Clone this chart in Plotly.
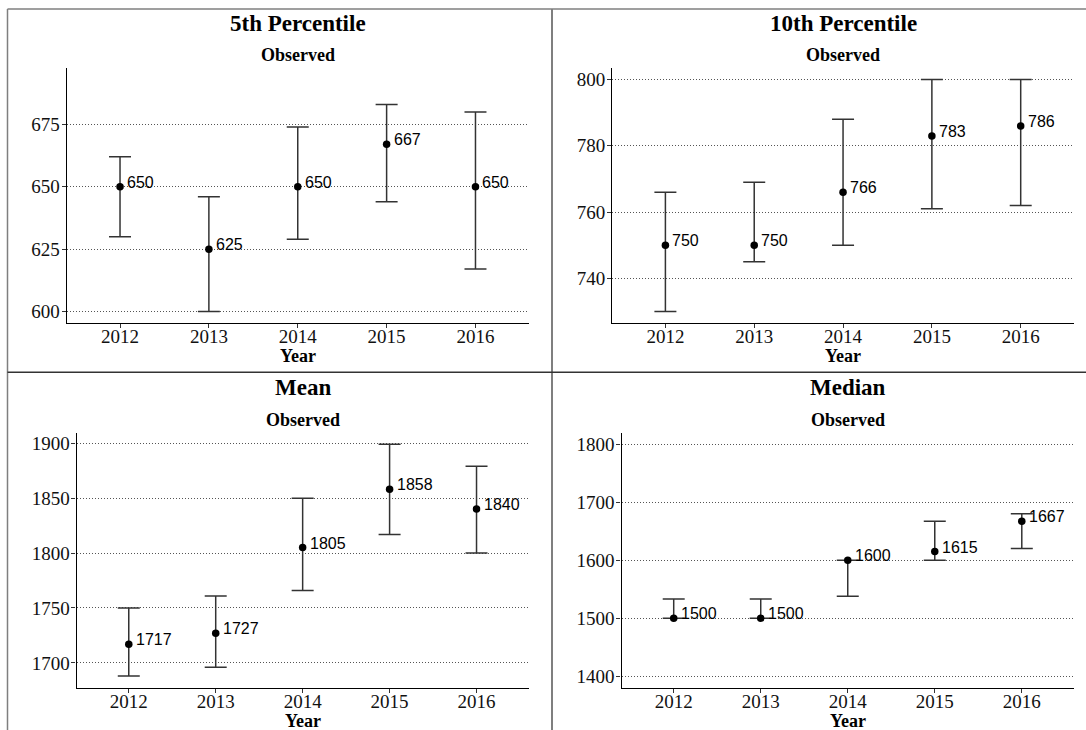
import plotly.graph_objects as go

W, H = 1086, 730

years = ["2012", "2013", "2014", "2015", "2016"]

titles = ["5th Percentile", "10th Percentile", "Mean", "Median"]
subtitle = "Observed"
x_title = "Year"

p5_est = [650, 625, 650, 667, 650]
p5_lo = [630, 600, 629, 644, 617]
p5_hi = [662, 646, 674, 683, 680]

p10_est = [750, 750, 766, 783, 786]
p10_lo = [730, 745, 750, 761, 762]
p10_hi = [766, 769, 788, 800, 800]

mean_est = [1717, 1727, 1805, 1858, 1840]
mean_lo = [1688, 1696, 1766, 1817, 1800]
mean_hi = [1750, 1761, 1850, 1899, 1879]

med_est = [1500, 1500, 1600, 1615, 1667]
med_lo = [1500, 1500, 1538, 1600, 1620]
med_hi = [1533, 1533, 1600, 1667, 1680]

p5_ticks = [600, 625, 650, 675]
p10_ticks = [740, 760, 780, 800]
mean_ticks = [1700, 1750, 1800, 1850, 1900]
med_ticks = [1400, 1500, 1600, 1700, 1800]

panels = [
    dict(est=p5_est, lo=p5_lo, hi=p5_hi, ticks=p5_ticks, yr=[595.4, 697.6],
         px=(66.7, 528.8), py=(68, 323), title=titles[0]),
    dict(est=p10_est, lo=p10_lo, hi=p10_hi, ticks=p10_ticks, yr=[726.5, 803.5],
         px=(612.1, 1074), py=(68, 323), title=titles[1]),
    dict(est=mean_est, lo=mean_lo, hi=mean_hi, ticks=mean_ticks, yr=[1677.45, 1909.55],
         px=(76.6, 528.7), py=(432.7, 687.7), title=titles[2]),
    dict(est=med_est, lo=med_lo, hi=med_hi, ticks=med_ticks, yr=[1380, 1820],
         px=(621.5, 1074), py=(432.7, 687.7), title=titles[3]),
]

SERIF = "Liberation Serif, Times New Roman, serif"
SANS = "Liberation Sans, Arial, sans-serif"

def fx(p):
    return p / W

def fy(p):
    return 1 - p / H

fig = go.Figure()
layout = dict(
    width=W, height=H, margin=dict(l=0, r=0, t=0, b=0),
    paper_bgcolor="white", plot_bgcolor="white", showlegend=False,
)
annotations = []
shapes = []

for i, p in enumerate(panels):
    n = "" if i == 0 else str(i + 1)
    xa, ya = "x" + n, "y" + n
    err_plus = [h - e for h, e in zip(p["hi"], p["est"])]
    err_minus = [e - l for e, l in zip(p["est"], p["lo"])]
    fig.add_trace(go.Scatter(
        x=years, y=p["est"], xaxis=xa, yaxis=ya, mode="markers",
        marker=dict(color="black", size=7.5),
        error_y=dict(type="data", symmetric=False, array=err_plus, arrayminus=err_minus,
                     color="#333333", thickness=1.5, width=11),
        hoverinfo="skip",
    ))
    layout["xaxis" + n] = dict(
        domain=[fx(p["px"][0]), fx(p["px"][1])], anchor=ya,
        type="category", range=[-0.6, 4.6],
        showgrid=False, zeroline=False,
        showline=True, linecolor="black", linewidth=1.3,
        ticks="outside", ticklen=4, tickcolor="#333333", tickwidth=1,
        ticklabelstandoff=-8,
        tickfont=dict(family=SERIF, size=19, color="#111111"),
    )
    layout["yaxis" + n] = dict(
        domain=[fy(p["py"][1]), fy(p["py"][0])], anchor=xa,
        range=p["yr"], tickvals=p["ticks"],
        showgrid=True, gridcolor="#555555", gridwidth=1, griddash="1px,2px",
        zeroline=False,
        showline=True, linecolor="black", linewidth=1.3,
        ticks="outside", ticklen=4, tickcolor="#333333", tickwidth=1,
        ticklabelstandoff=-2,
        tickfont=dict(family=SERIF, size=19, color="#111111"),
    )
    cx = fx((p["px"][0] + p["px"][1]) / 2)
    top = p["py"][0]
    annotations.append(dict(
        x=cx, y=fy(top - 45), xref="paper", yref="paper", text="<b>%s</b>" % p["title"],
        showarrow=False, font=dict(family=SERIF, size=23, color="black"),
        xanchor="center", yanchor="middle"))
    annotations.append(dict(
        x=cx, y=fy(top - 13), xref="paper", yref="paper", text="<b>%s</b>" % subtitle,
        showarrow=False, font=dict(family=SERIF, size=18, color="black"),
        xanchor="center", yanchor="middle"))
    annotations.append(dict(
        x=cx, y=fy(p["py"][1] + 33), xref="paper", yref="paper", text="<b>%s</b>" % x_title,
        showarrow=False, font=dict(family=SERIF, size=18, color="black"),
        xanchor="center", yanchor="middle"))
    for k, ev in enumerate(p["est"]):
        annotations.append(dict(
            x=k, y=ev, xref=xa, yref=ya, text=str(ev), showarrow=False,
            font=dict(family=SANS, size=16, color="black"),
            xanchor="left", yanchor="middle", xshift=5, yshift=4.5))

# panel borders
line_gray = dict(color="#7f7f7f", width=1.5)
shapes.append(dict(type="line", xref="paper", yref="paper", x0=fx(7.5), x1=1, y0=fy(9), y1=fy(9), line=line_gray))
shapes.append(dict(type="line", xref="paper", yref="paper", x0=fx(7.5), x1=fx(7.5), y0=fy(9), y1=0, line=line_gray))
shapes.append(dict(type="line", xref="paper", yref="paper", x0=fx(552), x1=fx(552), y0=fy(9), y1=0,
                   line=dict(color="#7f7f7f", width=2)))
shapes.append(dict(type="line", xref="paper", yref="paper", x0=fx(7.5), x1=1, y0=fy(372.3), y1=fy(372.3),
                   line=dict(color="#333333", width=1.5)))

layout["annotations"] = annotations
layout["shapes"] = shapes
fig.update_layout(**layout)

fig.write_html("out.html", config={"displayModeBar": False},
               post_script="document.body.style.margin='0';document.body.style.overflow='hidden';")
